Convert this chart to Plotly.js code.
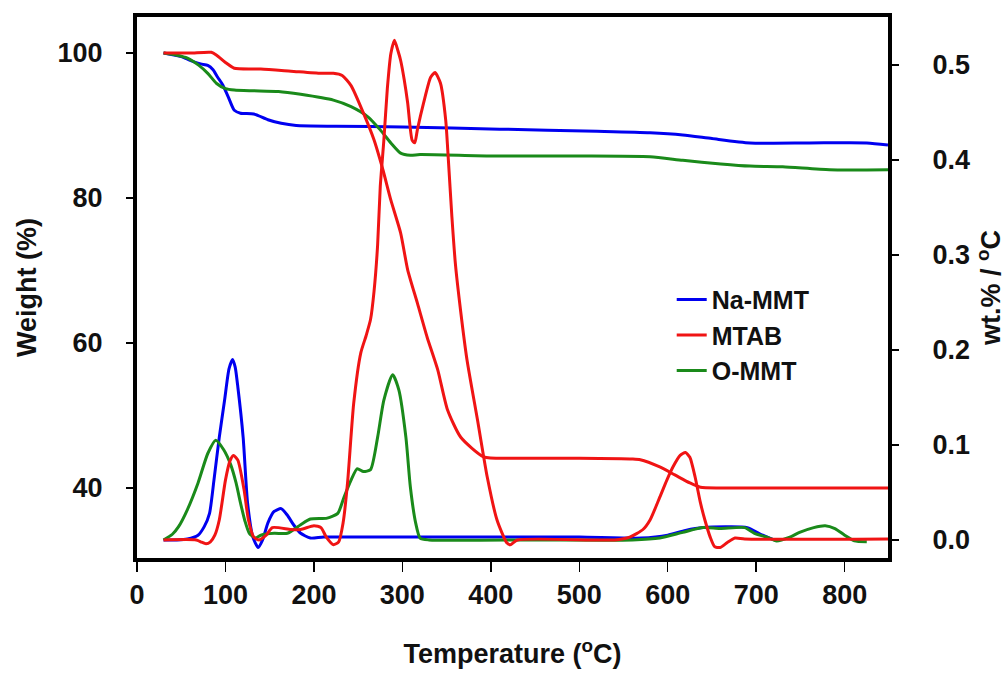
<!DOCTYPE html>
<html>
<head>
<meta charset="utf-8">
<script src="https://cdn.plot.ly/plotly-3.0.1.min.js"></script>
<style>html,body{margin:0;padding:0;background:#fff;}#chart{width:1006px;height:673px;}</style>
</head>
<body>
<div id="chart"></div>
<script>
// ---- TG curves (left axis, Weight %) ----
var naTgT = [30, 50, 60, 72, 80, 86, 91, 97, 103, 110, 117, 132, 148, 163, 180, 225, 300, 410, 520, 580, 617, 650, 693, 760, 825, 849];
var naTgW = [100, 99.5, 99.0, 98.5, 98.3, 97.7, 96.7, 95.6, 94.0, 92.1, 91.7, 91.6, 90.8, 90.3, 90.0, 89.9, 89.8, 89.5, 89.2, 89.0, 88.7, 88.2, 87.6, 87.6, 87.6, 87.3];

var mtTgT = [30, 60, 84, 90, 100, 110, 140, 174, 208, 222, 232, 242, 256, 268, 278, 287, 298, 306, 317, 328, 340, 351, 366, 392, 420, 500, 560, 569, 591, 608, 625, 637, 660, 849];
var mtTgW = [100, 100, 100.1, 99.7, 98.7, 97.9, 97.8, 97.5, 97.2, 97.2, 96.9, 95.5, 91.7, 88.0, 83.9, 79.7, 75.2, 70.1, 65.5, 60.8, 56.3, 50.8, 47.0, 44.3, 44.1, 44.1, 44.0, 43.9, 42.9, 41.8, 40.7, 40.1, 40.0, 40.0];

var omTgT = [30, 45, 57, 70, 80, 90, 100, 110, 130, 160, 185, 222, 242, 261, 275, 287, 298, 309, 320, 400, 500, 580, 617, 660, 693, 730, 783, 849];
var omTgW = [100, 99.7, 99.3, 98.3, 97.2, 95.8, 95.1, 94.9, 94.8, 94.7, 94.3, 93.5, 92.6, 91.2, 89.4, 87.6, 86.2, 85.9, 86.0, 85.8, 85.8, 85.7, 85.2, 84.7, 84.4, 84.3, 83.9, 83.9];

// ---- DTG curves (right axis, wt.% / °C) ----
var naDtgT = [30, 45, 57, 69, 76, 82, 87, 93, 99, 104, 108, 111, 114, 120, 125, 131, 137, 142, 148, 155, 163, 170, 177, 185, 196, 211, 300, 400, 500, 570, 600, 620, 640, 690, 705, 720];
var naDtgD = [0, 0, 0.001, 0.005, 0.014, 0.028, 0.063, 0.108, 0.147, 0.18, 0.19, 0.182, 0.161, 0.108, 0.039, 0.003, -0.008, 0, 0.018, 0.03, 0.033, 0.026, 0.016, 0.007, 0.002, 0.003, 0.003, 0.003, 0.003, 0.002, 0.005, 0.01, 0.013, 0.013, 0.006, 0.0];

var mtDtgT = [30, 67, 72, 78, 83, 88, 93, 100, 105, 109, 114, 121, 126, 132, 138, 146, 153, 174, 185, 200, 208, 214, 222, 228, 233, 238, 245, 253, 259, 264, 268, 272, 275, 279, 283, 287, 291, 295, 298, 302, 306, 311, 314, 317, 324, 332, 337, 343, 349, 352, 356, 360, 366, 373, 385, 396, 407, 418, 422, 430, 540, 557, 572, 580, 591, 599, 606, 614, 620, 625, 631, 637, 642, 648, 653, 659, 667, 676, 687, 849];
var mtDtgD = [0, 0, -0.002, -0.004, -0.002, 0.005, 0.021, 0.063, 0.083, 0.089, 0.084, 0.053, 0.021, 0.003, 0, 0.005, 0.013, 0.011, 0.011, 0.015, 0.013, 0.003, -0.005, -0.002, 0.018, 0.06, 0.144, 0.197, 0.215, 0.232, 0.262, 0.31, 0.372, 0.42, 0.475, 0.512, 0.526, 0.515, 0.505, 0.485, 0.46, 0.421, 0.418, 0.432, 0.46, 0.487, 0.492, 0.481, 0.442, 0.40, 0.34, 0.29, 0.24, 0.19, 0.126, 0.066, 0.021, -0.003, -0.005, 0, 0, 0.003, 0.011, 0.021, 0.045, 0.063, 0.077, 0.089, 0.092, 0.087, 0.066, 0.039, 0.021, 0.003, -0.007, -0.008, -0.003, 0.002, 0.001, 0.001];

var omDtgT = [30, 40, 47, 57, 69, 80, 89, 98, 106, 112, 117, 122, 127, 134, 140, 155, 170, 185, 196, 215, 227, 234, 242, 249, 256, 264, 272, 279, 289, 296, 304, 309, 315, 320, 330, 450, 560, 591, 617, 640, 659, 687, 698, 715, 723, 738, 749, 765, 778, 789, 800, 811, 825];
var omDtgD = [0, 0.006, 0.014, 0.032, 0.06, 0.091, 0.105, 0.095, 0.079, 0.06, 0.039, 0.02, 0.007, 0.002, 0.005, 0.007, 0.007, 0.016, 0.022, 0.023, 0.028, 0.045, 0.063, 0.075, 0.072, 0.074, 0.108, 0.147, 0.174, 0.158, 0.108, 0.056, 0.018, 0.002, 0.0, 0.0, 0.0, 0.002, 0.008, 0.013, 0.012, 0.013, 0.007, 0.002, -0.001, 0.003, 0.008, 0.013, 0.015, 0.012, 0.005, -0.001, -0.002];

var seriesNames = ['Na-MMT', 'MTAB', 'O-MMT'];
var xTicks = [0, 100, 200, 300, 400, 500, 600, 700, 800];
var yTicks = [40, 60, 80, 100];
var y2Ticks = [0.0, 0.1, 0.2, 0.3, 0.4, 0.5];

var BLUE = '#0000f0', RED = '#f01414', GREEN = '#1a8a1a';
var FONT = 'Liberation Sans, Arial, Helvetica, sans-serif';
var LW = 3;
var lineStyle = function (c) { return {color: c, width: LW, shape: 'spline', smoothing: 0.6}; };

var traces = [
  {x: naDtgT, y: naDtgD, yaxis: 'y2', mode: 'lines', line: lineStyle(BLUE), showlegend: false, name: seriesNames[0]},
  {x: omDtgT, y: omDtgD, yaxis: 'y2', mode: 'lines', line: lineStyle(GREEN), showlegend: false, name: seriesNames[2]},
  {x: mtDtgT, y: mtDtgD, yaxis: 'y2', mode: 'lines', line: lineStyle(RED), showlegend: false, name: seriesNames[1]},
  {x: naTgT, y: naTgW, mode: 'lines', line: lineStyle(BLUE), name: seriesNames[0], legendrank: 1},
  {x: omTgT, y: omTgW, mode: 'lines', line: lineStyle(GREEN), name: seriesNames[2], legendrank: 3},
  {x: mtTgT, y: mtTgW, mode: 'lines', line: lineStyle(RED), name: seriesNames[1], legendrank: 2}
];

var tickFont = {family: FONT, size: 27, color: '#111', weight: 'bold'};
var titleFont = {family: FONT, size: 27, color: '#111', weight: 'bold'};

var layout = {
  width: 1006, height: 673,
  margin: {l: 137, r: 118, t: 17, b: 115},
  paper_bgcolor: '#fff', plot_bgcolor: '#fff',
  showlegend: true,
  legend: {
    x: 0.712, y: 0.52, xanchor: 'left', yanchor: 'top',
    font: {family: FONT, size: 25, color: '#111', weight: 'bold'},
    bgcolor: 'rgba(0,0,0,0)', borderwidth: 0, tracegroupgap: 0
  },
  xaxis: {
    range: [0, 849], tickvals: xTicks, ticktext: xTicks.map(String),
    showgrid: false, zeroline: false,
    showline: true, linewidth: 4, linecolor: '#000', mirror: true,
    ticks: 'outside', ticklen: 10, tickwidth: 1.5, tickcolor: '#000',
    tickfont: tickFont, ticklabelstandoff: 0,
    title: {text: 'Temperature (<sup>o</sup>C)', font: titleFont, standoff: 36}
  },
  yaxis: {
    range: [30.34, 104.97], tickvals: yTicks, ticktext: yTicks.map(String),
    showgrid: false, zeroline: false,
    showline: true, linewidth: 4, linecolor: '#000', mirror: true,
    ticks: 'outside', ticklen: 7, tickwidth: 1.5, tickcolor: '#000',
    tickfont: tickFont, ticklabelstandoff: 18,
    title: {text: 'Weight (%)', font: titleFont, standoff: 14}
  },
  yaxis2: {
    overlaying: 'y', side: 'right',
    range: [-0.019, 0.5505], tickvals: y2Ticks, ticktext: y2Ticks.map(function (v) { return v.toFixed(1); }),
    showgrid: false, zeroline: false,
    showline: true, linewidth: 4, linecolor: '#000',
    ticks: 'outside', ticklen: 7, tickwidth: 1.5, tickcolor: '#000',
    tickfont: tickFont, ticklabelstandoff: 28,
    title: {text: 'wt.% / <sup>o</sup>C', font: titleFont, standoff: 14}
  }
};

Plotly.newPlot('chart', traces, layout, {staticPlot: true, displayModeBar: false});
</script>
</body>
</html>
